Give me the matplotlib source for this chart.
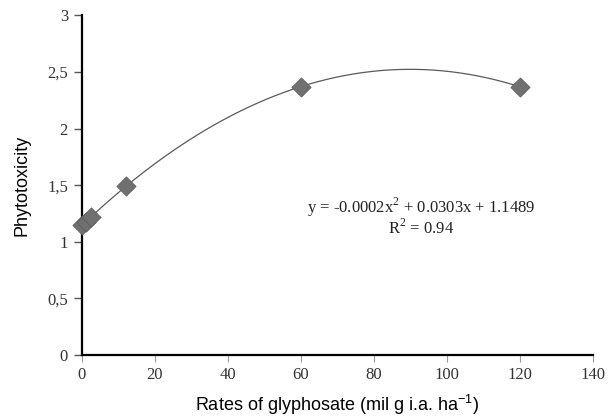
import numpy as np
import matplotlib
matplotlib.use("Agg")
import matplotlib.pyplot as plt
from matplotlib.ticker import FuncFormatter

# Data
rates = [0, 1.2, 2.4, 12, 60, 120]
phyto = [1.15, 1.17, 1.22, 1.49, 2.37, 2.37]
x_ticks = [0, 20, 40, 60, 80, 100, 120, 140]
y_ticks = [0, 0.5, 1, 1.5, 2, 2.5, 3]
equation = "y = -0.0002x$^{\\mathregular{2}}$ + 0.0303x + 1.1489"
r2_text = "R$^{\\mathregular{2}}$ = 0.94"

plt.rcParams['mathtext.fontset'] = 'custom'
plt.rcParams['mathtext.rm'] = 'Liberation Serif'

fig = plt.figure(figsize=(6.11, 4.17), dpi=100)
ax = fig.add_axes([0.134, 0.149, 0.836, 0.814])

coef = np.polyfit(rates, phyto, 2)
xs = np.linspace(0, 120, 300)
ax.plot(xs, np.polyval(coef, xs), color='#5a5a5a', lw=0.9, zorder=2)
ax.scatter(rates, phyto, marker='D', s=95, color='#707070', edgecolor='#5f5f5f',
           linewidth=0.6, zorder=3, clip_on=False)

ax.set_xlim(0, 140)
ax.set_ylim(0, 3)
ax.set_xticks(x_ticks)
ax.set_yticks(y_ticks)
ax.yaxis.set_major_formatter(FuncFormatter(lambda v, p: ('%g' % v).replace('.', ',')))

for s in ['top', 'right']:
    ax.spines[s].set_visible(False)
for s in ['left', 'bottom']:
    ax.spines[s].set_linewidth(1.6)
    ax.spines[s].set_color('black')

ax.tick_params(axis='y', direction='out', length=6, width=1.0, color='#555555', pad=4)
ax.tick_params(axis='x', direction='out', length=5, width=0.8, color='#999999', pad=4)
for lab in ax.get_xticklabels() + ax.get_yticklabels():
    lab.set_fontfamily('Liberation Serif')
    lab.set_fontsize(12)
    lab.set_color('#333333')

ax.set_xlabel("Rates of glyphosate (mil g i.a. ha$^{\\mathregular{-1}}$)", family='Liberation Sans', fontsize=13, labelpad=7)
ax.set_ylabel("Phytotoxicity", family='Liberation Sans', fontsize=13, labelpad=12)

ax.text(93.0, 1.30, equation, ha='center', va='center', family='Liberation Serif', fontsize=12, color='#222222')
ax.text(93.0, 1.12, r2_text, ha='center', va='center', family='Liberation Serif', fontsize=12, color='#222222')

fig.savefig("out.png", dpi=100, facecolor='white')
